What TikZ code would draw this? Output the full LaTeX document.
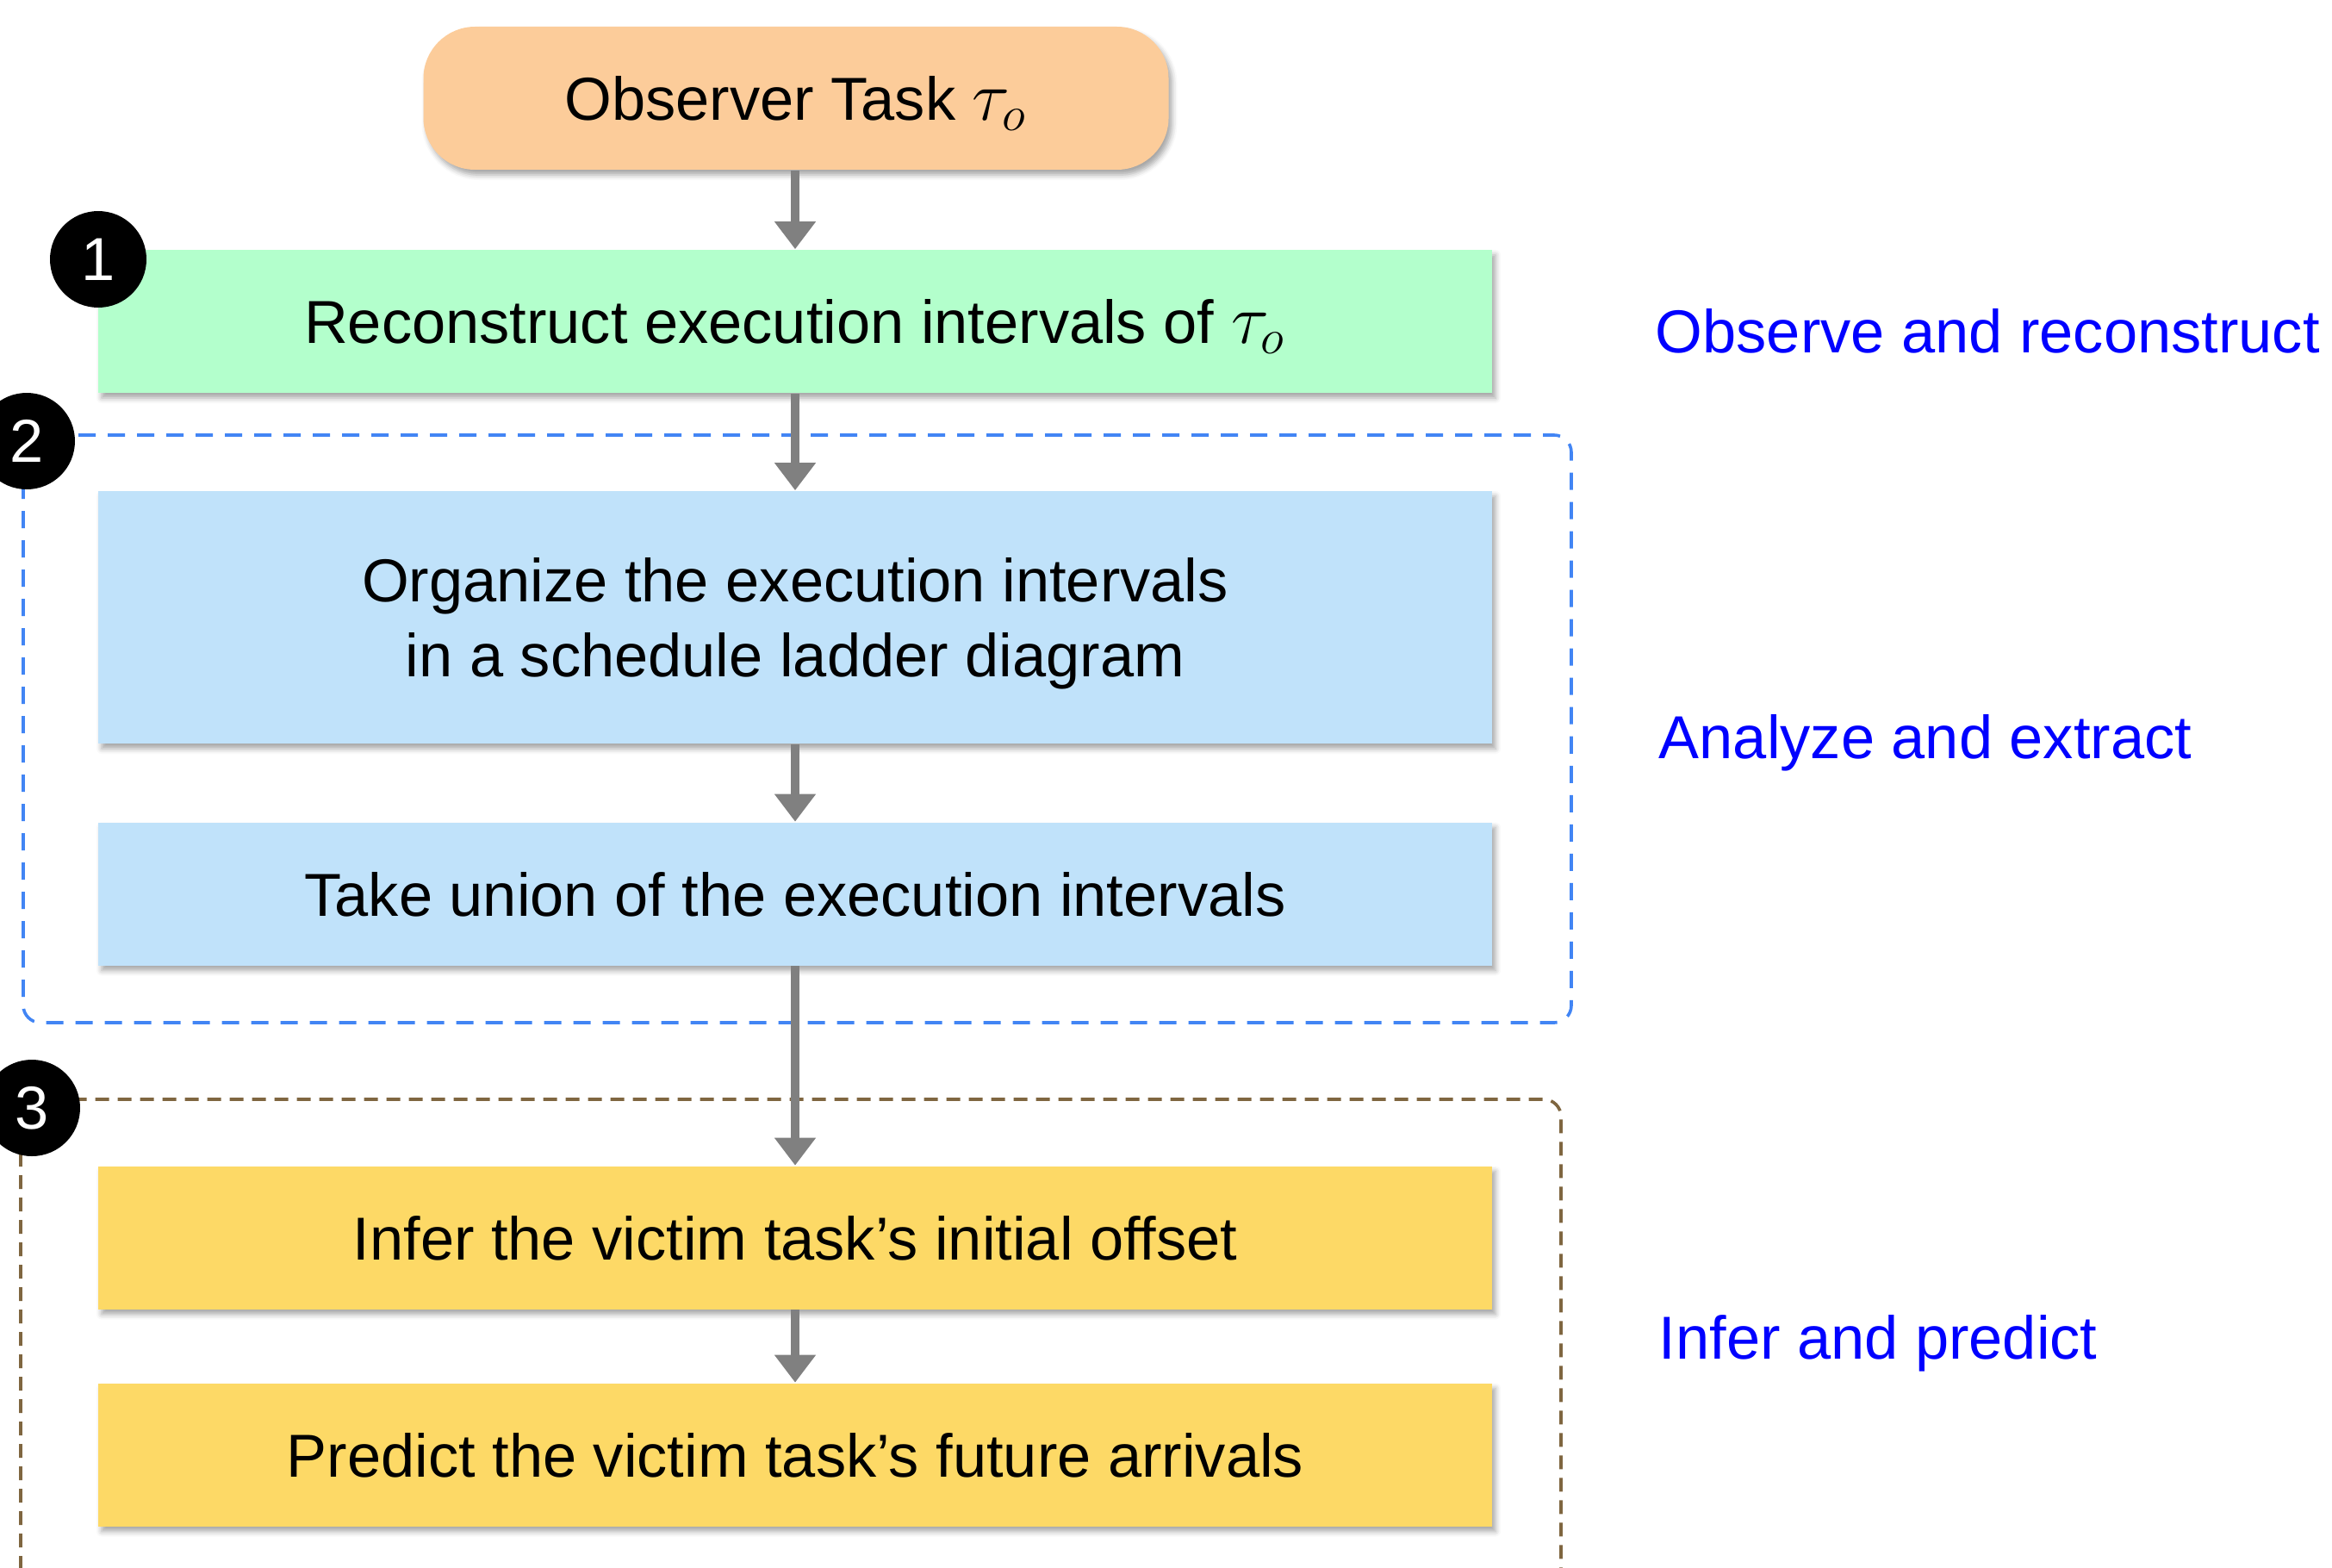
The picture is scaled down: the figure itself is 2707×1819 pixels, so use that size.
\documentclass[tikz,border=0pt]{standalone}
\usepackage{fontspec}
\setmainfont{Liberation Sans}
\usetikzlibrary{arrows.meta,shadows.blur}

\definecolor{peachfill}{RGB}{252,204,154}
\definecolor{mintfill}{RGB}{179,255,204}
\definecolor{skyfill}{RGB}{192,226,250}
\definecolor{goldfill}{RGB}{253,217,102}
\definecolor{flowgrey}{RGB}{128,128,128}
\definecolor{frameblue}{RGB}{66,133,244}
\definecolor{framebrown}{RGB}{127,102,64}
\definecolor{labelblue}{RGB}{0,0,255}

\tikzset{
  softshadow/.style={blur shadow={shadow xshift=1pt, shadow yshift=-1.5pt,
      shadow blur radius=1.5pt, shadow opacity=35}},
  stepbox/.style={rectangle, minimum width=404.5pt, minimum height=41.5pt,
      inner sep=0pt, text depth=0pt, align=center, softshadow},
  startbox/.style={rectangle, rounded corners=15pt, fill=peachfill,
      minimum width=216.25pt, minimum height=41.5pt, inner sep=0pt,
      text depth=0pt, softshadow},
  badge/.style={circle, fill=black, minimum size=28pt, inner sep=0pt,
      text=white},
  flow/.style={draw=flowgrey, line width=2.5pt,
      -{Triangle[length=8pt,width=11.5pt]}},
  phaselabel/.style={anchor=base west, text=labelblue, inner sep=0pt},
}
\newcommand{\taskvar}{\scalebox{1.18}{$\tau_{o}$}}

\begin{document}
\begin{tikzpicture}[x=0.25pt, y=-0.25pt, font=\fontsize{17.6}{21.6}\selectfont]
  \useasboundingbox (0,0) rectangle (2707,1819);

  % dashed phase frames
  \draw[frameblue, line width=0.9pt, dash pattern=on 5pt off 3.5pt, rounded corners=5pt]
    (27,505) rectangle (1824,1187);
  \draw[framebrown, line width=0.9pt, dash pattern=on 4pt off 2.5pt, rounded corners=5pt]
    (24,1900) -- (24,1276) -- (1812,1276) -- (1812,1900);

  % process steps
  \node[startbox] (obs) at (924,114) {Observer Task \taskvar};
  \node[stepbox, fill=mintfill] (recon) at (923,373)
    {Reconstruct execution intervals of \taskvar};
  \node[stepbox, fill=skyfill, minimum height=73.25pt] (organize) at (923,716.5)
    {Organize the execution intervals\\in a schedule ladder diagram};
  \node[stepbox, fill=skyfill] (union) at (923,1037.5)
    {Take union of the execution intervals};
  \node[stepbox, fill=goldfill] (infer) at (923,1436.5)
    {Infer the victim task’s initial offset};
  \node[stepbox, fill=goldfill] (predict) at (923,1688.5)
    {Predict the victim task’s future arrivals};

  % connectors
  \draw[flow] (obs.south -| recon) -- (recon.north);
  \draw[flow] (recon) -- (organize);
  \draw[flow] (organize) -- (union);
  \draw[flow] (union) -- (infer);
  \draw[flow] (infer) -- (predict);

  % phase numbers
  \node[badge] (b1) at (114,301) {1};
  \node[badge] (b2) at (31,512) {2};
  \node[badge] (b3) at (37,1286) {3};

  % phase labels
  \node[phaselabel] (l1) at (1921,409) {Observe and reconstruct};
  \node[phaselabel] (l2) at (1925,880) {Analyze and extract};
  \node[phaselabel] (l3) at (1925,1577) {Infer and predict};
\end{tikzpicture}
\end{document}
